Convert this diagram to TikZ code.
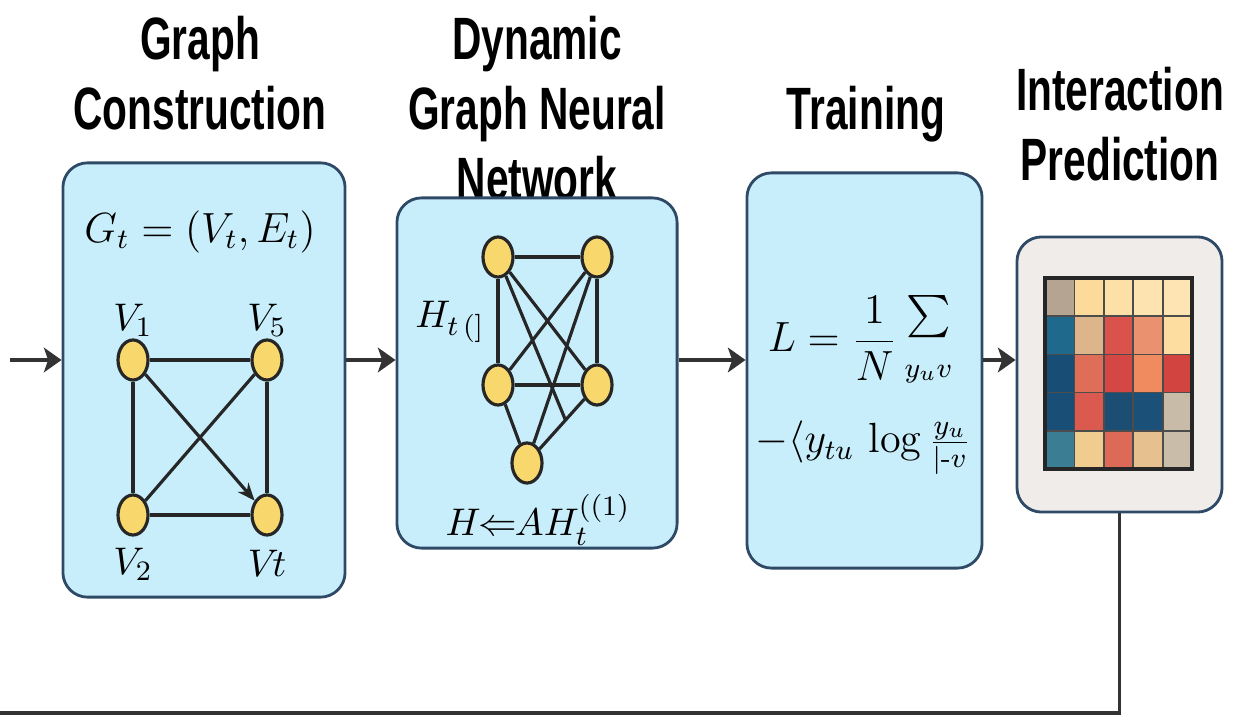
\documentclass[tikz,border=0pt]{standalone}
\usepackage{amsmath}
\usepackage{amssymb}
\usepackage{fontspec}
\usepackage{tikz}
\usetikzlibrary{shapes.geometric}
\usetikzlibrary{arrows.meta}
\usetikzlibrary{calc}
\newfontfamily\headfont[FakeStretch=0.68]{Liberation Sans}
\definecolor{boxfill}{HTML}{C9EEFB}
\definecolor{boxline}{HTML}{2E4A66}
\definecolor{nodefill}{HTML}{F8D76C}
\definecolor{predfill}{HTML}{EFECE9}
\definecolor{flowline}{HTML}{333333}
\newcommand{\nodew}{0.3cm}
\newcommand{\nodeh}{0.4cm}
\tikzstyle{stage}=[draw=boxline, fill=boxfill, line width=0.8pt, rounded corners=7pt, inner sep=0]
\tikzstyle{heading}=[font=\headfont\bfseries\fontsize{17}{20}\selectfont, align=center, inner sep=0, anchor=north]
\tikzstyle{gnode}=[ellipse, draw=black!85, fill=nodefill, line width=0.9pt, minimum width=\nodew, minimum height=\nodeh, inner sep=0]
\tikzstyle{edge}=[line width=0.9pt, black!85]
\tikzstyle{flow}=[line width=1.3pt, flowline, -{Stealth[length=5pt,width=7pt,inset=1.2pt]}]
\tikzstyle{mathlbl}=[inner sep=0, font=\fontsize{11}{13}\selectfont]

\begin{document}
\begin{tikzpicture}[x=0.01cm, y=-0.01cm]
        \useasboundingbox (0,0) rectangle (1234,716);
        % headings
        \node[heading] (h1) at (200,15) {Graph\\Construction};
        \node[heading] (h2) at (537,15) {Dynamic\\Graph Neural\\Network};
        \node[heading] (h3) at (866,85) {Training};
        \node[heading] (h4) at (1120,66) {Interaction\\Prediction};
        % stage boxes
        \node[stage, minimum width=2.82cm, minimum height=4.34cm] (graphbox) at (204,380) {};
        \node[stage, minimum width=2.80cm, minimum height=3.50cm] (gnnbox) at (537,373) {};
        \node[stage, minimum width=2.35cm, minimum height=3.95cm] (trainbox) at (864.5,370.5) {};
        \node[stage, fill=predfill, minimum width=2.05cm, minimum height=2.75cm] (predbox) at (1119.5,374.5) {};
        % graph construction
        \node[font=\fontsize{12}{14}\selectfont, inner sep=0] (gt) at (200,232) {$G_t=(V_t,E_t)$};
        \node[gnode] (v1) at (133,360) {};
        \node[gnode] (v5) at (267,360) {};
        \node[gnode] (v2) at (133,515) {};
        \node[gnode] (vt) at (267,515) {};
        \node[mathlbl] (l1) at (133,320) {$V_1$};
        \node[mathlbl] (l5) at (267,320) {$V_5$};
        \node[mathlbl] (l2) at (133,564) {$V_2$};
        \node[mathlbl] (lt) at (267,563) {$V\!t$};
        \draw[edge] (v1) -- (v5);
        \draw[edge] (v1) -- (v2);
        \draw[edge] (v5) -- (vt);
        \draw[edge] (v2) -- (vt);
        \draw[edge] (v5) -- (v2);
        \draw[edge, -{Stealth[length=5pt,width=4pt]}] (v1) -- (vt);
        % gnn
        \node[gnode] (a1) at (498,257) {};
        \node[gnode] (a2) at (597,257) {};
        \node[gnode] (a3) at (498,385) {};
        \node[gnode] (a4) at (597,385) {};
        \node[gnode] (a5) at (527,463) {};
        \coordinate (amid) at ($(a4)!0.45!(a5)$);
        \draw[edge] (a1) -- (a2);
        \draw[edge] (a1) -- (a3);
        \draw[edge] (a2) -- (a4);
        \draw[edge] (a3) -- (a4);
        \draw[edge] (a1) -- (a4);
        \draw[edge] (a2) -- (a3);
        \draw[edge] (a2) -- (a5);
        \draw[edge] (a3) -- (a5);
        \draw[edge] (a4) -- (a5);
        \draw[edge] (a1) -- (amid);
        \node[mathlbl] (ht) at (450,322) {$H_{t\,(]}$};
        \node[mathlbl] (upd) at (538,520) {$H\!\!\Leftarrow\!\! AH_t^{((1)}$};
        % training
        \node[inner sep=0, anchor=base, font=\fontsize{12}{14}\selectfont] (lossa) at (860,352)
            {$L=\dfrac{1}{N}\mathop{\raisebox{7pt}{$\textstyle\sum$}}\limits_{y_u v}$};
        \node[inner sep=0, anchor=base, font=\fontsize{12}{14}\selectfont] (lossb) at (863,453)
            {$-\langle y_{tu}\,\log\frac{y_u}{|\text{-}v}$};
        % heatmap
        \foreach \rowcols [count=\r from 0] in {{B5A492,FCDA9A,FDE0A5,FDE3B0,FEE4B2},
                {1F6A8C,DDB58A,D9524B,EA9270,FDDDA0},
                {184E75,DF6E58,D54744,F08B5F,D2443F},
                {194E76,DA5A50,1C4E74,1B5078,C8BBA8},
                {3B7E94,F1CC8F,DC6A56,E6C08F,C9BCA8}} {
            \foreach \hex [count=\c from 0] in \rowcols {
                \definecolor{cell}{HTML}{\hex}
                \fill[cell] (1045+\c*29.4,278+\r*38.2) rectangle ++(29.4,38.2);
            }
        }
        \foreach \k in {1,...,4} {
            \draw[line width=0.5pt, black!70] (1045+\k*29.4,278) -- ++(0,191);
            \draw[line width=0.5pt, black!70] (1045,278+\k*38.2) -- ++(147,0);
        }
        \draw[line width=1.2pt, black!85] (1045,278) rectangle (1192,469);
        % flow
        \coordinate (in) at (10,360);
        \coordinate (fb) at (0,713);
        \draw[flow] (in) -- (in -| graphbox.west);
        \draw[flow] (in -| graphbox.east) -- (in -| gnnbox.west);
        \draw[flow] (in -| gnnbox.east) -- (in -| trainbox.west);
        \draw[flow] (in -| trainbox.east) -- (in -| predbox.west);
        \draw[line width=1pt, flowline] (predbox.south) |- (fb);
    \end{tikzpicture}
\end{document}
